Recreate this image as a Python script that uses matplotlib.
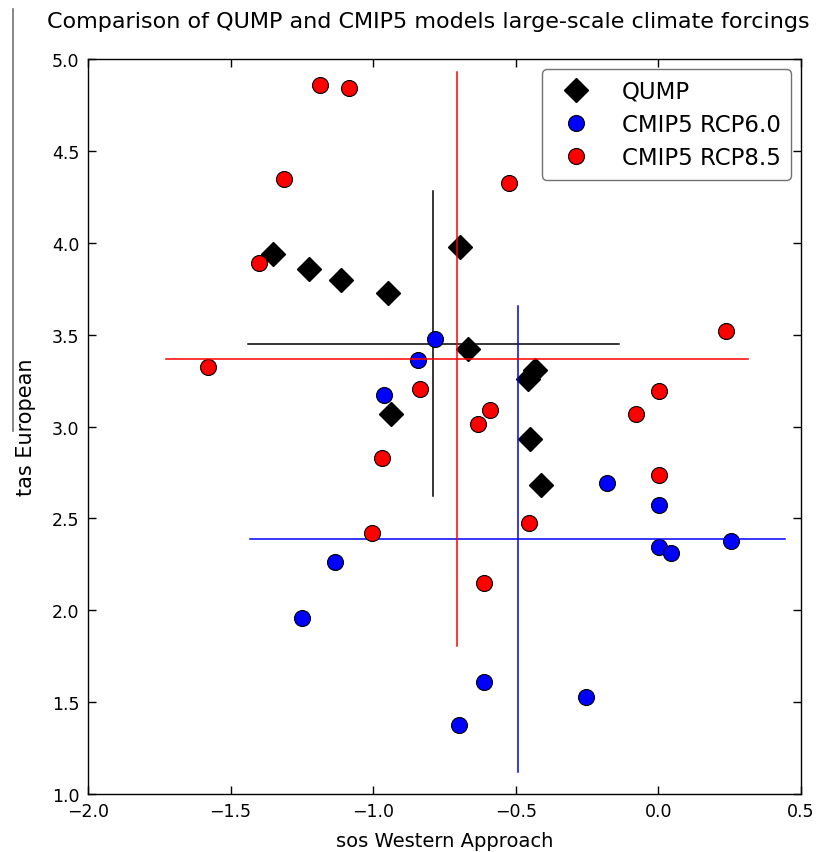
import matplotlib
matplotlib.use("Agg")
import matplotlib.pyplot as plt
from matplotlib.lines import Line2D
import matplotlib.ticker as mticker
import numpy as np

# QUMP ensemble
qump_x = [-1.352, -1.225, -1.114, -0.949, -0.696, -0.668, -0.938, -0.457, -0.433, -0.450, -0.412]
qump_y = [3.94, 3.857, 3.80, 3.727, 3.977, 3.42, 3.07, 3.26, 3.31, 2.93, 2.68]

# CMIP5 RCP6.0
rcp60_x = [-0.783, -0.844, -0.961, -1.133, -1.249, -0.613, -0.698, -0.254, -0.179, 0.001, 0.003, 0.045, 0.255]
rcp60_y = [3.476, 3.362, 3.17, 2.261, 1.958, 1.61, 1.377, 1.526, 2.693, 2.574, 2.345, 2.31, 2.377]

# CMIP5 RCP8.5
rcp85_x = [-1.187, -1.085, -1.312, -1.40, -1.58, -0.524, -0.836, -0.59, -0.634, -0.968,
           -1.003, -0.453, -0.61, -0.08, 0.002, 0.001, 0.236]
rcp85_y = [4.86, 4.84, 4.347, 3.89, 3.325, 4.325, 3.205, 3.09, 3.014, 2.827,
           2.42, 2.475, 2.148, 3.068, 3.195, 2.738, 3.52]

# ensemble mean and spread (cross lines)
qump_mean = (-0.789, 3.45)
qump_spread = (0.65, 0.83)
rcp60_mean = (-0.494, 2.388)
rcp60_spread = (0.938, 1.27)
rcp85_mean = (-0.707, 3.367)
rcp85_spread = (1.02, 1.56)

fig = plt.figure(figsize=(8.26, 8.53), dpi=100, facecolor="white")
ax = fig.add_axes([88/826, 1-795/853, (801-88)/826, (795-60)/853])

def cross(mean, spread, color):
    ax.plot([mean[0]-spread[0], mean[0]+spread[0]], [mean[1], mean[1]], color=color, lw=1.1)
    ax.plot([mean[0], mean[0]], [mean[1]-spread[1], mean[1]+spread[1]], color=color, lw=1.1)

ax.plot(qump_x, qump_y, ls="none", marker="D", ms=12, mfc="k", mec="k", label="QUMP")
cross(qump_mean, qump_spread, "k")
ax.plot(rcp60_x, rcp60_y, ls="none", marker="o", ms=11.5, mfc="blue", mec="k", mew=0.8, label="CMIP5 RCP6.0")
cross(rcp60_mean, rcp60_spread, "blue")
ax.plot(rcp85_x, rcp85_y, ls="none", marker="o", ms=11.5, mfc="red", mec="k", mew=0.8, label="CMIP5 RCP8.5")
cross(rcp85_mean, rcp85_spread, "red")

ax.set_xlim(-2.0, 0.5)
ax.set_ylim(1.0, 5.0)
ax.set_xticks(np.arange(-2.0, 0.51, 0.5))
ax.set_yticks(np.arange(1.0, 5.01, 0.5))
fmt = mticker.FuncFormatter(lambda v, p: ("%.1f" % v).replace("-", "\u2212"))
ax.xaxis.set_major_formatter(fmt)
ax.yaxis.set_major_formatter(fmt)
ax.tick_params(direction="in", length=6, width=1, top=True, right=True, labelsize=12.5, pad=6)
for s in ax.spines.values():
    s.set_linewidth(1.0)

ax.set_xlabel("sos Western Approach", fontsize=14, labelpad=8)
ax.set_ylabel("tas European", fontsize=15, labelpad=12)
fig.text(0.518, 1-22/853, "Comparison of QUMP and CMIP5 models large-scale climate forcings",
         fontsize=16, ha="center", va="center")

leg = ax.legend(loc="upper right", numpoints=1, fontsize=16.5, fancybox=True,
                borderaxespad=0.45, handletextpad=1.0, handlelength=2.0,
                labelspacing=0.45, borderpad=0.45)
leg.get_frame().set_edgecolor("0.3")
leg.get_frame().set_linewidth(1.0)

fig.add_artist(Line2D([13/826, 13/826], [1-10/853, 1-432/853], color="0.45", lw=1.2))

fig.savefig("out.png", dpi=100, facecolor="white")
